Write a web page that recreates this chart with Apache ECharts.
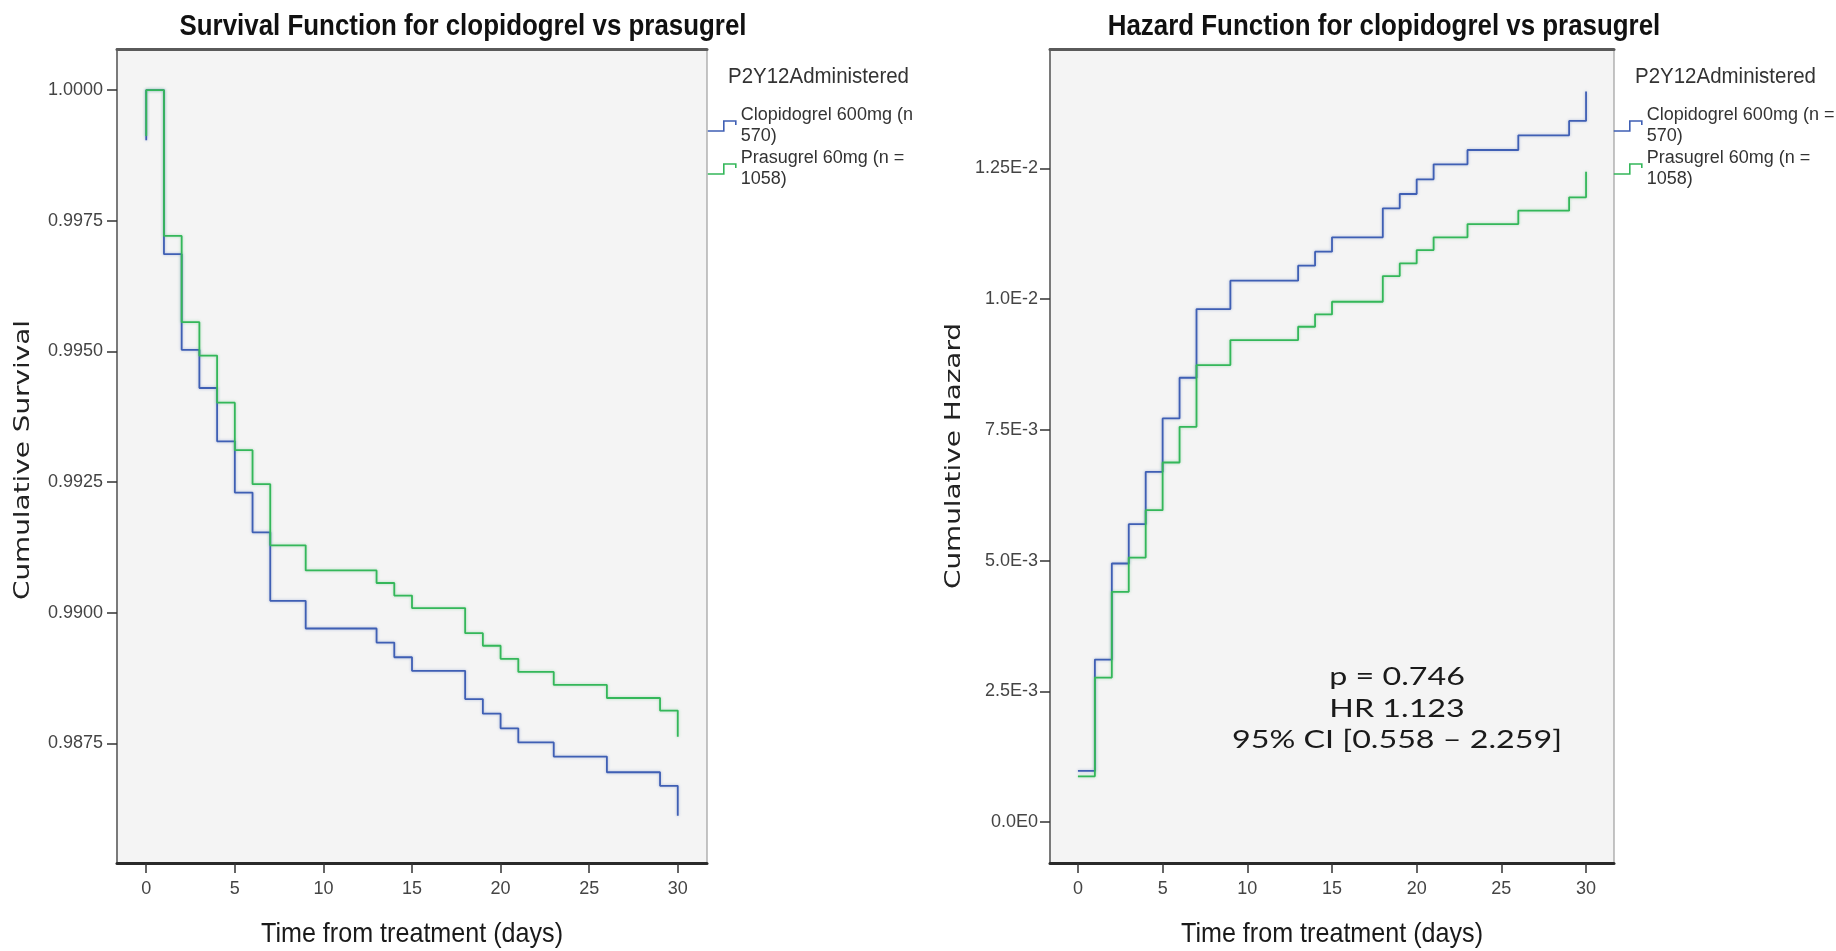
<!DOCTYPE html>
<html>
<head>
<meta charset="utf-8">
<script src="https://cdn.jsdelivr.net/npm/echarts@6/dist/echarts.min.js"></script>
<style>
html,body{margin:0;padding:0;background:#fff;}
#chart{width:1836px;height:951px;}
</style>
</head>
<body>
<div id="chart"></div>
<script>
// ---------------- data ----------------
const seriesNames = ['Clopidogrel 600mg (n = 570)', 'Prasugrel 60mg (n = 1058)'];
const legendLabelsLeft = ['Clopidogrel 600mg (n\n570)', 'Prasugrel 60mg (n =\n1058)'];
const legendLabelsRight = ['Clopidogrel 600mg (n =\n570)', 'Prasugrel 60mg (n =\n1058)'];
const legendTitle = 'P2Y12Administered';
const chartTitles = ['Survival Function for clopidogrel vs prasugrel', 'Hazard Function for clopidogrel vs prasugrel'];
const xAxisTitle = 'Time from treatment (days)';
const yAxisTitles = ['Cumulative Survival', 'Cumulative Hazard'];
const annotationLines = ['p = 0.746', 'HR 1.123', '95% CI [0.558 \u2013 2.259]'];

const survivalDays = [0, 0, 1, 2, 3, 4, 5, 6, 7, 9, 13, 14, 15, 18, 19, 20, 21, 23, 26, 29, 30];
const survivalClopidogrel = [0.99904, 1.0, 0.99686, 0.99503, 0.99430, 0.99328, 0.99230, 0.99154, 0.99023, 0.98970, 0.98943, 0.98915, 0.98889, 0.98835, 0.98807, 0.98779, 0.98752, 0.98725, 0.98695, 0.98669, 0.98612];
const survivalPrasugrel = [0.99912, 1.0, 0.99721, 0.99556, 0.99492, 0.99402, 0.99311, 0.99246, 0.99129, 0.99081, 0.99057, 0.99033, 0.99009, 0.98961, 0.98937, 0.98912, 0.98887, 0.98862, 0.98837, 0.98813, 0.98763];

const hazardDays = [0, 1, 2, 3, 4, 5, 6, 7, 9, 13, 14, 15, 18, 19, 20, 21, 23, 26, 29, 30];
const hazardClopidogrel = [0.000976, 0.003106, 0.004943, 0.005695, 0.006696, 0.007717, 0.008495, 0.009809, 0.010351, 0.010638, 0.010906, 0.011180, 0.011735, 0.012009, 0.012290, 0.012577, 0.012851, 0.013131, 0.013406, 0.013967];
const hazardPrasugrel = [0.000874, 0.002761, 0.004401, 0.005057, 0.005963, 0.006875, 0.007557, 0.008737, 0.009216, 0.009471, 0.009707, 0.009949, 0.010440, 0.010682, 0.010937, 0.011180, 0.011435, 0.011690, 0.011945, 0.012436];

const xTickValues = [0, 5, 10, 15, 20, 25, 30];
const survivalTickValues = [0.9875, 0.9900, 0.9925, 0.9950, 0.9975, 1.0000];
const survivalTickLabels = ['0.9875', '0.9900', '0.9925', '0.9950', '0.9975', '1.0000'];
const hazardTickValues = [0, 0.0025, 0.005, 0.0075, 0.01, 0.0125];
const hazardTickLabels = ['0.0E0', '2.5E-3', '5.0E-3', '7.5E-3', '1.0E-2', '1.25E-2'];

// ---------------- styles ----------------
const colors = ['#3f5fb4', '#34b75a'];
const SANS = "'Liberation Sans', Arial, sans-serif";
const WIDE = "'DejaVu Sans', Verdana, sans-serif";
const ANNOT = "Lato, 'Open Sans', sans-serif";

function measure(text, font) {
  const c = document.createElement('canvas').getContext('2d');
  c.font = font;
  return c.measureText(text).width;
}
const titleFont = 'bold 29px ' + SANS;
const titleScale = 567 / measure(chartTitles[0], titleFont);
const xTitleFont = '28px ' + SANS;
const xTitleScale = 302 / measure(xAxisTitle, xTitleFont);
const legTitleFont = '22px ' + SANS;
const legTitleScale = 181 / measure(legendTitle, legTitleFont);
const yTitleFont = '22px ' + WIDE;
const yTitleScale = 280 / measure(yAxisTitles[0], yTitleFont);
const annotFont = '25px ' + ANNOT;
const annotScale = 330 / measure(annotationLines[2], annotFont);

function lookupLabel(values, labels) {
  return function (v) {
    const i = values.findIndex(t => Math.abs(t - v) < 1e-9);
    return i >= 0 ? labels[i] : '';
  };
}

const grids = [
  { left: 117, top: 49, width: 590, height: 814 },
  { left: 1050, top: 49, width: 564, height: 814 }
];

function bottomXAxis(gridIndex) {
  return {
    type: 'value', gridIndex: gridIndex, min: -1.65, max: 31.65,
    splitLine: { show: false },
    axisLine: { show: true, onZero: false, lineStyle: { color: '#2a2a2a', width: 3 } },
    axisTick: { show: true, customValues: xTickValues, length: 10, lineStyle: { color: '#333', width: 1.5 } },
    axisLabel: { customValues: xTickValues, margin: 17, fontFamily: SANS, fontSize: 18, color: '#444' }
  };
}
function topXAxis(gridIndex) {
  return {
    type: 'value', gridIndex: gridIndex, position: 'top', min: 0, max: 1,
    splitLine: { show: false },
    axisLine: { show: true, onZero: false, lineStyle: { color: '#5a5a5a', width: 3 } },
    axisTick: { show: false }, axisLabel: { show: false }
  };
}
function leftYAxis(gridIndex, min, max, values, labels, margin) {
  return {
    type: 'value', gridIndex: gridIndex, min: min, max: max,
    splitLine: { show: false },
    axisLine: { show: true, onZero: false, lineStyle: { color: '#7a7a7a', width: 2 } },
    axisTick: { show: true, customValues: values, length: 10, lineStyle: { color: '#333', width: 1.5 } },
    axisLabel: { customValues: values, formatter: lookupLabel(values, labels), margin: margin,
      fontFamily: SANS, fontSize: 18, color: '#444' }
  };
}

function stepSeries(name, days, vals, axisIndex, color) {
  return {
    type: 'line', name: name, xAxisIndex: axisIndex, yAxisIndex: axisIndex,
    step: 'end', symbol: 'none', showSymbol: false, clip: false, silent: true,
    data: days.map((d, i) => [d, vals[i]]),
    lineStyle: { color: color, width: 1.8, shadowColor: color + '66', shadowBlur: 3 },
    itemStyle: { color: color }
  };
}

const stepIcon = 'path://M0,10 L16,10 L16,0 L28,0 L28,4';
function makeLegend(left, labels) {
  return {
    orient: 'vertical', left: left, top: 105, padding: 0, itemGap: 1,
    itemWidth: 28, itemHeight: 11, selectedMode: false,
    data: seriesNames.map((n, i) => ({
      name: n, icon: stepIcon,
      itemStyle: { color: 'transparent', borderColor: colors[i], borderWidth: 1.6 }
    })),
    formatter: n => labels[seriesNames.indexOf(n)],
    textStyle: { fontFamily: SANS, fontSize: 18, lineHeight: 21, color: '#333' }
  };
}

function scaledText(text, x, y, font, scale, align, fill, rotation) {
  return {
    type: 'text', x: x, y: y, scaleX: scale, rotation: rotation || 0, silent: true, z: 100,
    style: { text: text, font: font, fill: fill, align: align, verticalAlign: 'middle' }
  };
}

const option = {
  animation: false,
  backgroundColor: '#ffffff',
  grid: grids.map(g => Object.assign({ show: true, backgroundColor: '#f4f4f4', borderColor: '#8c8c8c', borderWidth: 1 }, g)),
  xAxis: [bottomXAxis(0), bottomXAxis(1), topXAxis(0), topXAxis(1)],
  yAxis: [
    leftYAxis(0, 0.985214, 1.000785, survivalTickValues, survivalTickLabels, 14),
    leftYAxis(1, -0.000784, 0.014782, hazardTickValues, hazardTickLabels, 12)
  ],
  legend: [makeLegend(707, legendLabelsLeft), makeLegend(1613, legendLabelsRight)],
  series: [
    stepSeries(seriesNames[0], survivalDays, survivalClopidogrel, 0, colors[0]),
    stepSeries(seriesNames[1], survivalDays, survivalPrasugrel, 0, colors[1]),
    stepSeries(seriesNames[0], hazardDays, hazardClopidogrel, 1, colors[0]),
    stepSeries(seriesNames[1], hazardDays, hazardPrasugrel, 1, colors[1])
  ],
  graphic: [
    scaledText(chartTitles[0], 463, 27, titleFont, titleScale, 'center', '#111'),
    scaledText(chartTitles[1], 1384, 27, titleFont, titleScale, 'center', '#111'),
    scaledText(legendTitle, 728, 77, legTitleFont, legTitleScale, 'left', '#333'),
    scaledText(legendTitle, 1635, 77, legTitleFont, legTitleScale, 'left', '#333'),
    scaledText(xAxisTitle, 412, 934, xTitleFont, xTitleScale, 'center', '#1a1a1a'),
    scaledText(xAxisTitle, 1332, 934, xTitleFont, xTitleScale, 'center', '#1a1a1a'),
    scaledText(yAxisTitles[0], 23, 460, yTitleFont, yTitleScale, 'center', '#222', Math.PI / 2),
    scaledText(yAxisTitles[1], 954, 456, yTitleFont, yTitleScale, 'center', '#222', Math.PI / 2)
  ].concat(annotationLines.map((t, i) =>
    scaledText(t, 1397, [677, 708.5, 740][i], annotFont, annotScale, 'center', '#1a1a1a')))
};

const chart = echarts.init(document.getElementById('chart'), null, { renderer: 'canvas' });
chart.setOption(option);
</script>
</body>
</html>
